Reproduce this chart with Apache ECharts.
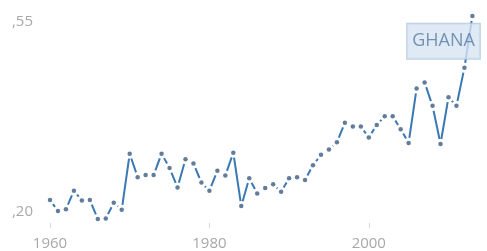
<!DOCTYPE html>
<html>
<head>
<meta charset="UTF-8">
<title>Ghana</title>
<script src="https://cdn.jsdelivr.net/npm/echarts@6/dist/echarts.min.js"></script>
<style>
    html, body { margin: 0; padding: 0; background: #fff; }
    #main { width: 487px; height: 251px; }
</style>
</head>
<body>
<div id="main"></div>
<script>
    var years = [];
    for (var y = 1960; y <= 2013; y++) years.push(String(y));

    var values = [
        0.222, 0.202, 0.205, 0.239, 0.221, 0.222, 0.187, 0.188, 0.217, 0.204,
        0.307, 0.264, 0.268, 0.268, 0.307, 0.281, 0.245, 0.297, 0.289, 0.254,
        0.239, 0.276, 0.267, 0.309, 0.211, 0.262, 0.234, 0.244, 0.251, 0.237,
        0.262, 0.264, 0.259, 0.286, 0.305, 0.315, 0.328, 0.364, 0.357, 0.357,
        0.337, 0.360, 0.376, 0.376, 0.352, 0.327, 0.427, 0.438, 0.395, 0.325,
        0.411, 0.395, 0.465, 0.560
    ];
    var yTicks = [0.20, 0.55];
    var countryName = 'GHANA';

    // segments between neighbouring years, drawn with a gap at each end
    var segments = [];
    for (var i = 1; i < values.length; i++) {
        segments.push([i - 1, values[i - 1], i, values[i]]);
    }

    var dots = values.map(function (v, i) {
        if (i === values.length - 1) {
            return {
                value: v,
                label: {
                    show: true,
                    position: [-63, 10],
                    formatter: countryName,
                    color: '#557ca4',
                    fontFamily: 'Open Sans',
                    fontSize: 18,
                    lineHeight: 23,
                    backgroundColor: '#d7e5f3',
                    borderColor: '#aec3d8',
                    borderWidth: 1,
                    padding: [6, 5, 6, 5]
                }
            };
        }
        return v;
    });

    var myChart = echarts.init(document.getElementById('main'));
    myChart.setOption({
        animation: false,
        grid: { left: 50, right: 14.6, top: 10.6, bottom: 28.1 },
        xAxis: {
            type: 'category',
            data: years,
            boundaryGap: false,
            axisLine: { show: false },
            axisTick: { show: true, interval: 19, length: 5, lineStyle: { color: '#d8d8d8' } },
            axisLabel: { interval: 19, margin: 13, color: '#a8a8a8', fontFamily: 'Open Sans', fontSize: 15 },
            splitLine: { show: false }
        },
        yAxis: {
            type: 'value',
            min: 0.18,
            max: 0.57,
            axisLine: { show: false },
            axisTick: { show: false },
            splitLine: { show: false },
            axisLabel: {
                customValues: yTicks,
                margin: 17,
                color: '#a8a8a8',
                fontFamily: 'Open Sans',
                fontSize: 15,
                formatter: function (v) { return ',' + Math.round(v * 100); }
            }
        },
        series: [{
            type: 'custom',
            data: segments,
            encode: { x: [0, 2], y: [1, 3] },
            z: 2,
            renderItem: function (params, api) {
                var p0 = api.coord([api.value(0), api.value(1)]);
                var p1 = api.coord([api.value(2), api.value(3)]);
                var dx = p1[0] - p0[0], dy = p1[1] - p0[1];
                var len = Math.sqrt(dx * dx + dy * dy);
                var gap = 5;
                if (len <= gap * 2 + 0.5) return null;
                var ux = dx / len, uy = dy / len;
                return {
                    type: 'line',
                    shape: {
                        x1: p0[0] + ux * gap, y1: p0[1] + uy * gap,
                        x2: p1[0] - ux * gap, y2: p1[1] - uy * gap
                    },
                    style: { stroke: '#3a78b4', lineWidth: 2, lineCap: 'butt' }
                };
            }
        }, {
            type: 'scatter',
            data: dots,
            symbol: 'circle',
            symbolSize: 4.5,
            z: 3,
            itemStyle: { color: '#3b5d82' }
        }]
    });
</script>
</body>
</html>
